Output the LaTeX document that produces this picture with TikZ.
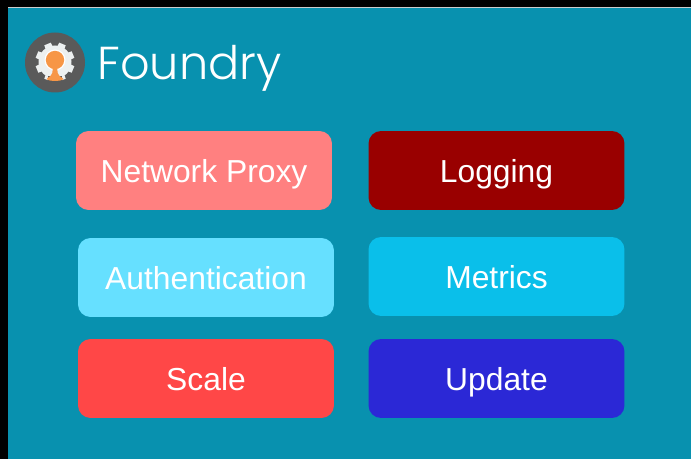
\documentclass[tikz,border=0pt]{standalone}
\usepackage{fontspec}
\setmainfont{Liberation Sans}
\newfontfamily\logofont[UprightFont=* Light]{Poppins}
\definecolor{panelteal}{HTML}{0891AF}
\definecolor{proxypink}{HTML}{FF8080}
\definecolor{logred}{HTML}{990000}
\definecolor{authblue}{HTML}{66E0FF}
\definecolor{metricblue}{HTML}{0ABFEA}
\definecolor{scalered}{HTML}{FF4747}
\definecolor{updateblue}{HTML}{2B28D6}
\definecolor{logogrey}{HTML}{5A5A5A}
\definecolor{gearwhite}{HTML}{EDF0F0}
\definecolor{logoorange}{HTML}{F79646}
\tikzset{
    service/.style={rounded corners=0.25cm, text=white, font=\fontsize{18.1pt}{20pt}\selectfont, minimum width=5.12cm, minimum height=1.58cm, inner sep=0pt, text height=0.48cm, text depth=0pt}
}

\begin{document}
\begin{tikzpicture}[x=0.02cm,y=-0.02cm]
            \useasboundingbox (0,0) rectangle (691,459);
            \fill[black] (0,0) rectangle (691,459);
            \fill[panelteal] (8,8) rectangle (691,459);
            \fill[gray!40] (8,7) rectangle (691,8);
            \fill[logogrey] (55,62.5) circle [radius=30];
            \fill[gearwhite] (55,62) circle [radius=16.5];
            \foreach \a in {0,45,...,315}
                \fill[gearwhite,rotate around={\a+22.5:(55,62)}] (50.5,62) -- (51.5,42.5) -- (58.5,42.5) -- (59.5,62) -- cycle;
            \fill[white] (55,60) circle [radius=10.5];
            \fill[logoorange] (55,60) circle [radius=9.2];
            \fill[logogrey] (48,76) rectangle (62,83);
            \fill[logoorange] (52.5,66) .. controls (53,72) and (53,75) .. (47,78.5) -- (47,79.5) .. controls (50,81.5) and (60,81.5) .. (63,79.5) -- (63,78.5) .. controls (57,75) and (57,72) .. (57.5,66) -- cycle;
            \node[anchor=base west,text=white,inner sep=0pt,font=\logofont\fontsize{26.3pt}{30pt}\selectfont] (title) at (97,80) {Foundry};
            \node[service,fill=proxypink] (proxy) at (204,170.5) {Network Proxy};
            \node[service,fill=logred] (logging) at (496.5,170.5) {Logging};
            \node[service,fill=authblue] (auth) at (206,277.5) {Authentication};
            \node[service,fill=metricblue] (metrics) at (496.5,276.5) {Metrics};
            \node[service,fill=scalered] (scale) at (206,378.5) {Scale};
            \node[service,fill=updateblue] (update) at (496.5,378.5) {Update};
        \end{tikzpicture}
\end{document}
